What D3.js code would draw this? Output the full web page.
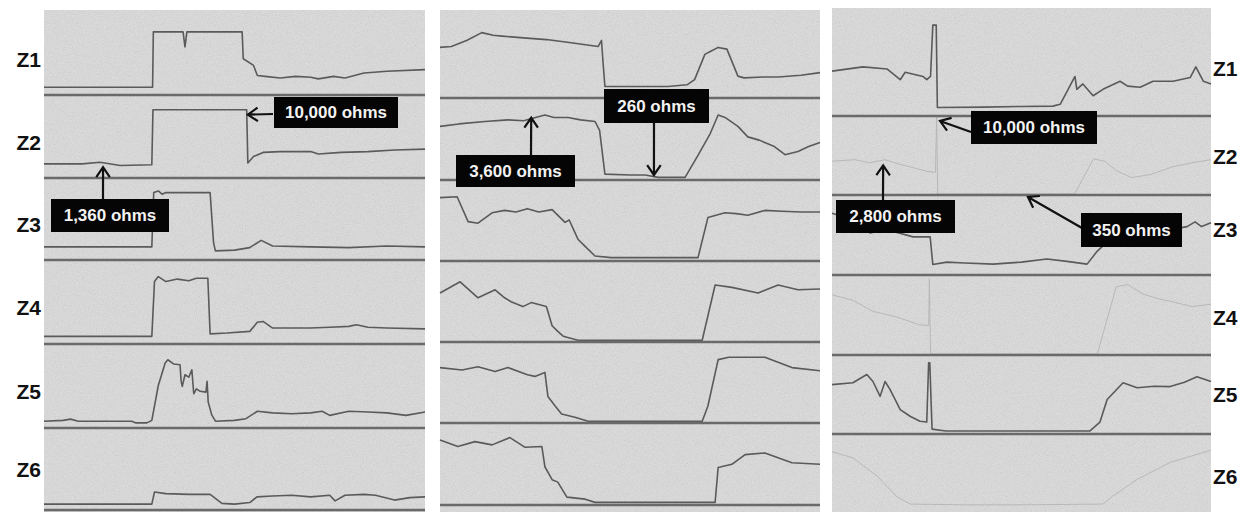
<!DOCTYPE html>
<html>
<head>
<meta charset="utf-8">
<script src="https://cdn.jsdelivr.net/npm/d3@7"></script>
<style>
body { margin: 0; background: #fff; }
svg { display: block; }
</style>
</head>
<body>
<div id="chart"></div>
<script>
// Zone names
var zones = ["Z1", "Z2", "Z3", "Z4", "Z5", "Z6"];

// Panel 1 traces: [time %, level %]
var p1z1 = [[0,8],[28.5,8],[28.7,74],[36.5,74],[37,56],[37.5,74],[52,74],[52.3,42],[55,34],[56,22],[58,21],[62,19],[66,21],[70,20],[72,18],[76,21],[79,19],[84,25],[90,27],[100,29]];
var p1z2 = [[0,16],[10,16],[14.7,18],[20,14],[28.3,15],[28.6,82],[53.2,82],[53.5,17],[55,25],[57.5,30],[62,31],[70,31],[72,28],[78,30],[85,31],[92,33],[100,34]];
var p1z3 = [[0,15],[28.3,15],[28.8,82],[30,84],[31,80],[32,82],[43.6,82],[44.5,20],[45,10],[50,11],[54,14],[57,23],[60,16],[70,15],[80,14],[90,16],[100,15]];
var p1z4 = [[0,8],[28.3,8],[29,74],[30,80],[32,74],[35,77],[38,75],[40,78],[43,78],[43.6,11],[48,12],[54,14],[56,25],[57.5,26],[60,18],[70,18],[75,19],[80,20],[82,22],[85,19],[90,18],[100,17]];
var p1z5 = [[0,7],[5,8],[7,9.5],[9,7],[23,7],[24,5],[27,5],[28.3,8],[30,50],[31.8,77],[32.5,81],[34,76],[35.7,75],[36,55],[36.3,49],[37,63],[38,60],[38.8,69],[39.3,40],[40,46],[41,43],[42.5,42],[42.8,55],[43.1,30],[44,15],[45,7],[50,8],[53,10],[56,19],[60,17],[65,16],[70,17],[73,19],[75,14],[80,19],[85,18],[90,17],[95,14],[100,18]];
var p1z6 = [[0,6],[28.3,6],[29,21],[32,19],[38,18],[43.6,18],[46.7,7],[50,6],[54,8],[55.9,15],[60,16],[65,17],[70,15],[75,17],[76.4,10],[79,17],[84,18],[87,17],[92,11],[96,14],[100,15]];

// Panel 2 traces
var p2z1 = [[0,57],[3,58],[7,65],[11,74],[14,71],[16.3,70],[22,68],[28,66],[35,62],[41.6,58],[42.5,65],[42.9,40],[43.4,12],[50,12],[60,12],[65,14],[67,20],[69.7,49],[71,52],[73.2,57],[75.5,55],[78.4,24],[80,22],[85,23],[89,23],[95,25],[100,28]];
var p2z2 = [[0,65],[5,68],[11.8,71],[17.9,73],[22,72],[27.6,79],[30,76],[33.7,76],[37,73],[40.8,71],[42,60],[43.4,6],[50,5],[54,5],[57.4,2],[64.5,2],[68,30],[71,55],[73.2,79],[75,76],[78.4,65],[81,52],[84,48],[88,40],[90.8,30],[94.2,34],[97,40],[100,45]];
var p2z3 = [[0,78],[4.5,79],[7.4,48],[10,46],[13.7,59],[17,62],[20,60],[23,64],[26,60],[29.5,63],[32.9,47],[34,50],[36.3,26],[38,18],[40.8,5],[45,3],[55,3],[67.9,3],[70.5,53],[75,59],[78,58],[81,56],[85.5,62],[90,61],[95,60],[100,60]];
var p2z4 = [[0,60],[5.3,74],[10,54],[14.5,64],[17,54],[18.7,49],[21.8,43],[24,48],[28,43],[29.5,19],[31,12],[32.4,6],[36.3,1],[50,1],[69,1],[72.4,70],[76.8,67],[83.7,60],[89,70],[94.2,64],[100,65]];
var p2z5 = [[0,68],[5.8,65],[10,69],[14.5,63],[17.9,68],[23,59],[25,57],[27.6,62],[28.4,32],[30.3,20],[32,10],[35.5,6],[39,1],[69,1],[70.5,20],[73.2,78],[76,81],[85.5,81],[92.6,68],[100,64]];
var p2z6 = [[0,79],[4.7,71],[9.2,77],[13.7,73],[18.4,82],[22.4,70],[26.8,71],[27.6,46],[29.5,30],[31,27],[33.4,8.5],[38.2,6],[40.8,2],[72.4,2],[73.2,45],[76.8,49],[80.3,61],[85.5,63],[92.6,51],[100,49]];

// Panel 3 traces
var p3z1 = [[0,41],[8.2,45],[14.5,43],[18,33],[19.3,40],[24,36],[25,33],[26,36],[26.6,84],[27.5,84],[27.8,7],[40,7.4],[50,8],[58.3,8.3],[60.2,10],[62.3,24],[64.1,36],[64.6,24],[66.2,29],[68.9,18],[71.5,24],[76,31.5],[78,27],[81.3,26],[84.7,31.5],[90,31.5],[94.5,35],[96,45],[98,31.5],[100,29]];
var p3z2 = [[0,42],[6,44],[10,40],[14,44],[18,38],[22,33],[25,29],[27.3,28],[27.6,100],[27.9,0],[40,0],[64,0],[69,45],[72,42],[75,30],[79,21],[84,25],[90,35],[95,40],[100,44]];
var p3z3 = [[0,77],[5.5,69],[10,52],[14.5,56],[21.4,47],[25.9,47],[26.6,12],[30.3,15],[35,14],[42.5,12.5],[50,15],[56.7,19],[62,16],[67.3,12.5],[70,29],[73.4,44],[80,50],[88,55],[93.7,60],[95.8,66],[97.5,60],[100,65]];
var p3z4 = [[0,75],[5.5,68],[10.8,54],[17,47],[23,37],[25.5,36],[25.7,95],[26,0],[50,0],[70,0],[75,85],[78,88],[82,76],[86,70],[90,66],[95,60],[100,63]];
var p3z5 = [[0,62],[5.5,64.5],[9.2,75],[10.8,66],[12.7,47],[14,66],[15.3,56],[18,30],[20.6,21.5],[23.2,15],[25,14],[25.5,90],[25.8,90],[26.4,5],[30,2.5],[50,2.5],[68,2.5],[70.7,14],[72.6,43],[76.8,64.5],[80.5,58],[85,60],[89.2,59.5],[93,65],[96.3,72],[100,66]];
var p3z6 = [[0,77],[5.5,69],[12,45],[17,19],[20.6,9],[35,8],[50,8],[71.5,9],[74,19],[80.5,41],[89.2,63],[100,79]];

// Annotations: text, panel, zone and the point the arrow points at
var noteTexts = ["10,000 ohms", "1,360 ohms", "260 ohms", "3,600 ohms", "10,000 ohms", "2,800 ohms", "350 ohms"];
var notePanel = [0, 0, 1, 1, 2, 2, 2];
var noteZone = [1, 1, 1, 1, 1, 1, 2];
var noteTime = [53.5, 15.5, 56.3, 24, 28.5, 13.5, 51.7];
var noteLevel = [76, 12, 5, 75.6, 93.7, 36.7, 97.5];

var width = 1249, height = 512;

// Layout of the three panels: left/right edge and row boundaries
var panels = [
    { x0: 44, x1: 425, top: 10, rows: [10, 95, 178, 260, 344, 428, 510] },
    { x0: 440, x1: 820, top: 10, rows: [10, 98, 180, 261, 342, 423, 505] },
    { x0: 832, x1: 1211, top: 8, rows: [8, 116, 195, 275, 355, 434, 512] }
];
var traces = [
    [p1z1, p1z2, p1z3, p1z4, p1z5, p1z6],
    [p2z1, p2z2, p2z3, p2z4, p2z5, p2z6],
    [p3z1, p3z2, p3z3, p3z4, p3z5, p3z6]
];
// faint (low contrast) traces in the third panel
var faint = [[], [], [1, 3, 5]];

// box placement for each note (pixels) and arrow tail
var noteBoxes = [
    { x: 274, y: 97, w: 124, h: 31, sx: 273, sy: 114 },
    { x: 51, y: 199, w: 118, h: 33, sx: 103, sy: 199 },
    { x: 604, y: 89, w: 105, h: 34, sx: 654, sy: 123 },
    { x: 456, y: 155, w: 119, h: 32, sx: 531, sy: 155 },
    { x: 971, y: 111, w: 126, h: 33, sx: 971, sy: 132 },
    { x: 836, y: 200, w: 119, h: 33, sx: 883, sy: 200 },
    { x: 1081, y: 213, w: 101, h: 34, sx: 1082, sy: 228 }
];
var leftLabelY = [60, 143, 225, 308, 392, 470];
var rightLabelY = [69, 157, 230, 318, 395, 477];

var svg = d3.select("#chart")
    .append("svg")
    .attr("width", width)
    .attr("height", height);

// speckle texture like the scanned trace paper
var defs = svg.append("defs");
var grain = defs.append("filter").attr("id", "grain")
    .attr("x", 0).attr("y", 0).attr("width", 1).attr("height", 1);
grain.append("feTurbulence")
    .attr("type", "fractalNoise")
    .attr("baseFrequency", 1.1)
    .attr("numOctaves", 2)
    .attr("seed", 4);
grain.append("feColorMatrix")
    .attr("type", "matrix")
    .attr("values", "0.33 0.33 0.33 0 0  0.33 0.33 0.33 0 0  0.33 0.33 0.33 0 0  0 0 0 0 1");

var xScales = [], yScales = [];

panels.forEach(function (p, pi) {
    var g = svg.append("g").attr("class", "panel");

    g.append("rect")
        .attr("x", p.x0).attr("y", p.top)
        .attr("width", p.x1 - p.x0).attr("height", height - p.top)
        .style("fill", "#e0e0e0");
    g.append("rect")
        .attr("x", p.x0).attr("y", p.top)
        .attr("width", p.x1 - p.x0).attr("height", height - p.top)
        .attr("filter", "url(#grain)")
        .style("opacity", 0.24);

    var x = d3.scaleLinear().domain([0, 100]).range([p.x0, p.x1]);
    xScales.push(x);
    yScales.push([]);

    zones.forEach(function (z, zi) {
        var y = d3.scaleLinear().domain([0, 100]).range([p.rows[zi + 1] - 1, p.rows[zi]]);
        yScales[pi].push(y);

        var isFaint = faint[pi].indexOf(zi) >= 0;
        var line = d3.line()
            .x(function (d) { return x(d[0]); })
            .y(function (d) { return y(d[1]); });

        g.append("path")
            .datum(traces[pi][zi])
            .attr("d", line)
            .style("fill", "none")
            .style("stroke", isFaint ? "#b4b4b4" : "#5a5a5a")
            .style("stroke-width", isFaint ? 0.9 : 1.6)
            .style("stroke-linejoin", "round");
    });

    // row separators drawn over the traces
    g.selectAll(".sep")
        .data(p.rows.slice(1).filter(function (r) { return r < height; }))
        .enter().append("line")
        .attr("class", "sep")
        .attr("x1", p.x0).attr("x2", p.x1)
        .attr("y1", function (r) { return r; })
        .attr("y2", function (r) { return r; })
        .style("stroke", "#6a6a6a")
        .style("stroke-width", 2.5);
});

// Zone labels on both sides
svg.selectAll(".zl")
    .data(zones).enter()
    .append("text")
    .attr("class", "zl")
    .attr("x", 41)
    .attr("y", function (d, i) { return leftLabelY[i]; })
    .attr("dy", "0.35em")
    .style("text-anchor", "end")
    .style("font-family", "Liberation Sans, Arial, sans-serif")
    .style("font-weight", "bold")
    .style("font-size", "21px")
    .style("fill", "#111")
    .text(function (d) { return d; });

svg.selectAll(".zr")
    .data(zones).enter()
    .append("text")
    .attr("class", "zr")
    .attr("x", 1213)
    .attr("y", function (d, i) { return rightLabelY[i]; })
    .attr("dy", "0.35em")
    .style("text-anchor", "start")
    .style("font-family", "Liberation Sans, Arial, sans-serif")
    .style("font-weight", "bold")
    .style("font-size", "21px")
    .style("fill", "#111")
    .text(function (d) { return d; });

// Annotation boxes and arrows
var notes = svg.selectAll(".note")
    .data(noteTexts).enter()
    .append("g")
    .attr("class", "note");

notes.append("path")
    .attr("d", function (d, i) {
        var b = noteBoxes[i];
        var tx = xScales[notePanel[i]](noteTime[i]);
        var ty = yScales[notePanel[i]][noteZone[i]](noteLevel[i]);
        var a = Math.atan2(ty - b.sy, tx - b.sx);
        var L = 12, s = 0.6;
        return "M" + b.sx + "," + b.sy + "L" + tx + "," + ty +
            "M" + (tx - L * Math.cos(a - s)) + "," + (ty - L * Math.sin(a - s)) +
            "L" + tx + "," + ty +
            "L" + (tx - L * Math.cos(a + s)) + "," + (ty - L * Math.sin(a + s));
    })
    .style("fill", "none")
    .style("stroke", "#111")
    .style("stroke-width", 2.2);

notes.append("rect")
    .attr("x", function (d, i) { return noteBoxes[i].x; })
    .attr("y", function (d, i) { return noteBoxes[i].y; })
    .attr("width", function (d, i) { return noteBoxes[i].w; })
    .attr("height", function (d, i) { return noteBoxes[i].h; })
    .style("fill", "#050505");

notes.append("text")
    .attr("x", function (d, i) { return noteBoxes[i].x + noteBoxes[i].w / 2; })
    .attr("y", function (d, i) { return noteBoxes[i].y + noteBoxes[i].h / 2; })
    .attr("dy", "0.35em")
    .style("text-anchor", "middle")
    .style("font-family", "Liberation Sans, Arial, sans-serif")
    .style("font-weight", "bold")
    .style("font-size", "17px")
    .style("fill", "#f2f2f2")
    .text(function (d) { return d; });
</script>
</body>
</html>
